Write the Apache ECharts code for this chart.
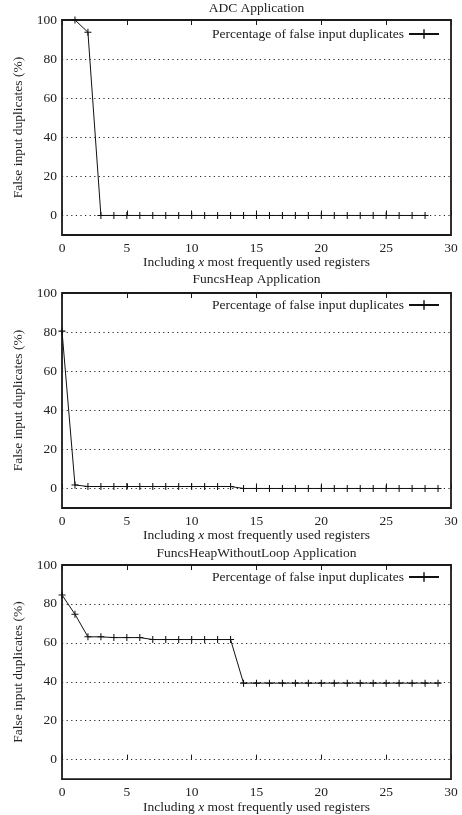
<!DOCTYPE html>
<html>
<head>
<meta charset="utf-8">
<script src="https://cdn.jsdelivr.net/npm/echarts@6/dist/echarts.min.js"></script>
<style>html,body{margin:0;padding:0;background:#fff;}#c{width:462px;height:815px;}</style>
</head>
<body>
<div id="c"></div>
<script>
const titles = ['ADC Application', 'FuncsHeap Application', 'FuncsHeapWithoutLoop Application'];
const seriesName = 'Percentage of false input duplicates';
const xAxisName = 'Including {i|x} most frequently used registers';
const yAxisName = 'False input duplicates (%)';
const yTickLabels = [0, 20, 40, 60, 80, 100];
const xTickLabels = [0, 5, 10, 15, 20, 25, 30];

const adcRegs = [1,2,3,4,5,6,7,8,9,10,11,12,13,14,15,16,17,18,19,20,21,22,23,24,25,26,27,28];
const adcDup  = [100,93.75,0,0,0,0,0,0,0,0,0,0,0,0,0,0,0,0,0,0,0,0,0,0,0,0,0,0];

const heapRegs = [0,1,2,3,4,5,6,7,8,9,10,11,12,13,14,15,16,17,18,19,20,21,22,23,24,25,26,27,28,29];
const heapDup  = [80.5,1.8,1,1,1,1,1,1,1,1,1,1,1,1,0,0,0,0,0,0,0,0,0,0,0,0,0,0,0,0];

const noLoopRegs = [0,1,2,3,4,5,6,7,8,9,10,11,12,13,14,15,16,17,18,19,20,21,22,23,24,25,26,27,28,29];
const noLoopDup  = [84.6,74.7,63.1,63.1,62.7,62.7,62.7,61.7,61.7,61.7,61.7,61.7,61.7,61.7,
                    39.3,39.3,39.3,39.3,39.3,39.3,39.3,39.3,39.3,39.3,39.3,39.3,39.3,39.3,39.3,39.3];

const panels = [[adcRegs, adcDup], [heapRegs, heapDup], [noLoopRegs, noLoopDup]];

const FONT = 'Liberation Serif';
const FS = 13.5;
const TXT = '#222';
const gridTops = [20, 293, 565];
const titleTops = [1, 272, 546];
const legendTops = [27, 298, 570];
const plotLeft = 62, plotWidth = 389, plotHeight = 215;
const plus = 'path://M-0.15,-1H0.15V-0.15H1V0.15H0.15V1H-0.15V0.15H-1V-0.15H-0.15Z';

const option = {
  animation: false,
  backgroundColor: '#fff',
  textStyle: { fontFamily: FONT, color: TXT },
  title: titles.map((t, i) => ({
    text: t, left: plotLeft + plotWidth / 2, top: titleTops[i], textAlign: 'center', padding: 0,
    textStyle: { fontFamily: FONT, fontSize: FS, fontWeight: 'normal', color: TXT }
  })),
  legend: titles.map((t, i) => ({
    data: [seriesName], right: 22, top: legendTops[i], padding: 0, align: 'right',
    itemWidth: 30, itemHeight: 12, selectedMode: false,
    textStyle: { fontFamily: FONT, fontSize: FS, color: TXT }
  })),
  grid: gridTops.map(t => ({
    left: plotLeft, top: t, width: plotWidth, height: plotHeight, show: true,
    borderColor: '#1a1a1a', borderWidth: 1.8, backgroundColor: 'transparent'
  })),
  xAxis: [],
  yAxis: [],
  series: []
};

gridTops.forEach((t, i) => {
  option.xAxis.push({
    gridIndex: i, type: 'value', position: 'bottom', min: xTickLabels[0], max: xTickLabels[xTickLabels.length - 1], interval: 5,
    name: xAxisName, nameLocation: 'middle', nameGap: 18,
    nameTextStyle: { fontFamily: FONT, fontSize: FS, color: TXT,
      rich: { i: { fontFamily: FONT, fontSize: FS, fontStyle: 'italic', color: TXT } } },
    axisLine: { show: false },
    axisTick: { show: true, inside: true, length: 5, lineStyle: { color: '#1a1a1a', width: 1 } },
    axisLabel: { margin: 6, fontFamily: FONT, fontSize: FS, color: TXT },
    splitLine: { show: false }
  });
  option.xAxis.push({
    gridIndex: i, type: 'value', position: 'top', min: 0, max: 30, interval: 5,
    axisLine: { show: false },
    axisTick: { show: true, inside: true, length: 5, lineStyle: { color: '#1a1a1a', width: 1 } },
    axisLabel: { show: false },
    splitLine: { show: false }
  });
  option.yAxis.push({
    gridIndex: i, type: 'value', min: -10, max: 100, interval: 10,
    name: yAxisName, nameLocation: 'middle', nameGap: 33, nameRotate: 90,
    nameTextStyle: { fontFamily: FONT, fontSize: FS, color: TXT },
    axisLine: { show: false },
    axisTick: { show: false },
    axisLabel: { margin: 5, fontFamily: FONT, fontSize: FS, color: TXT,
      formatter: v => (yTickLabels.indexOf(v) >= 0 ? String(v) : '') },
    splitLine: { show: true, lineStyle: { color: ['rgba(0,0,0,0)', '#222'], width: 1, type: [1.2, 3.4] } }
  });
  const [xs, ys] = panels[i];
  option.series.push({
    name: seriesName, type: 'line', xAxisIndex: i * 2, yAxisIndex: i,
    data: xs.map((x, k) => [x, ys[k]]),
    symbol: plus, symbolSize: 7, showSymbol: true,
    lineStyle: { color: '#111', width: 1 },
    itemStyle: { color: '#111' },
    z: 5
  });
});

const chart = echarts.init(document.getElementById('c'), null, { renderer: 'canvas' });
chart.setOption(option);
</script>
</body>
</html>
